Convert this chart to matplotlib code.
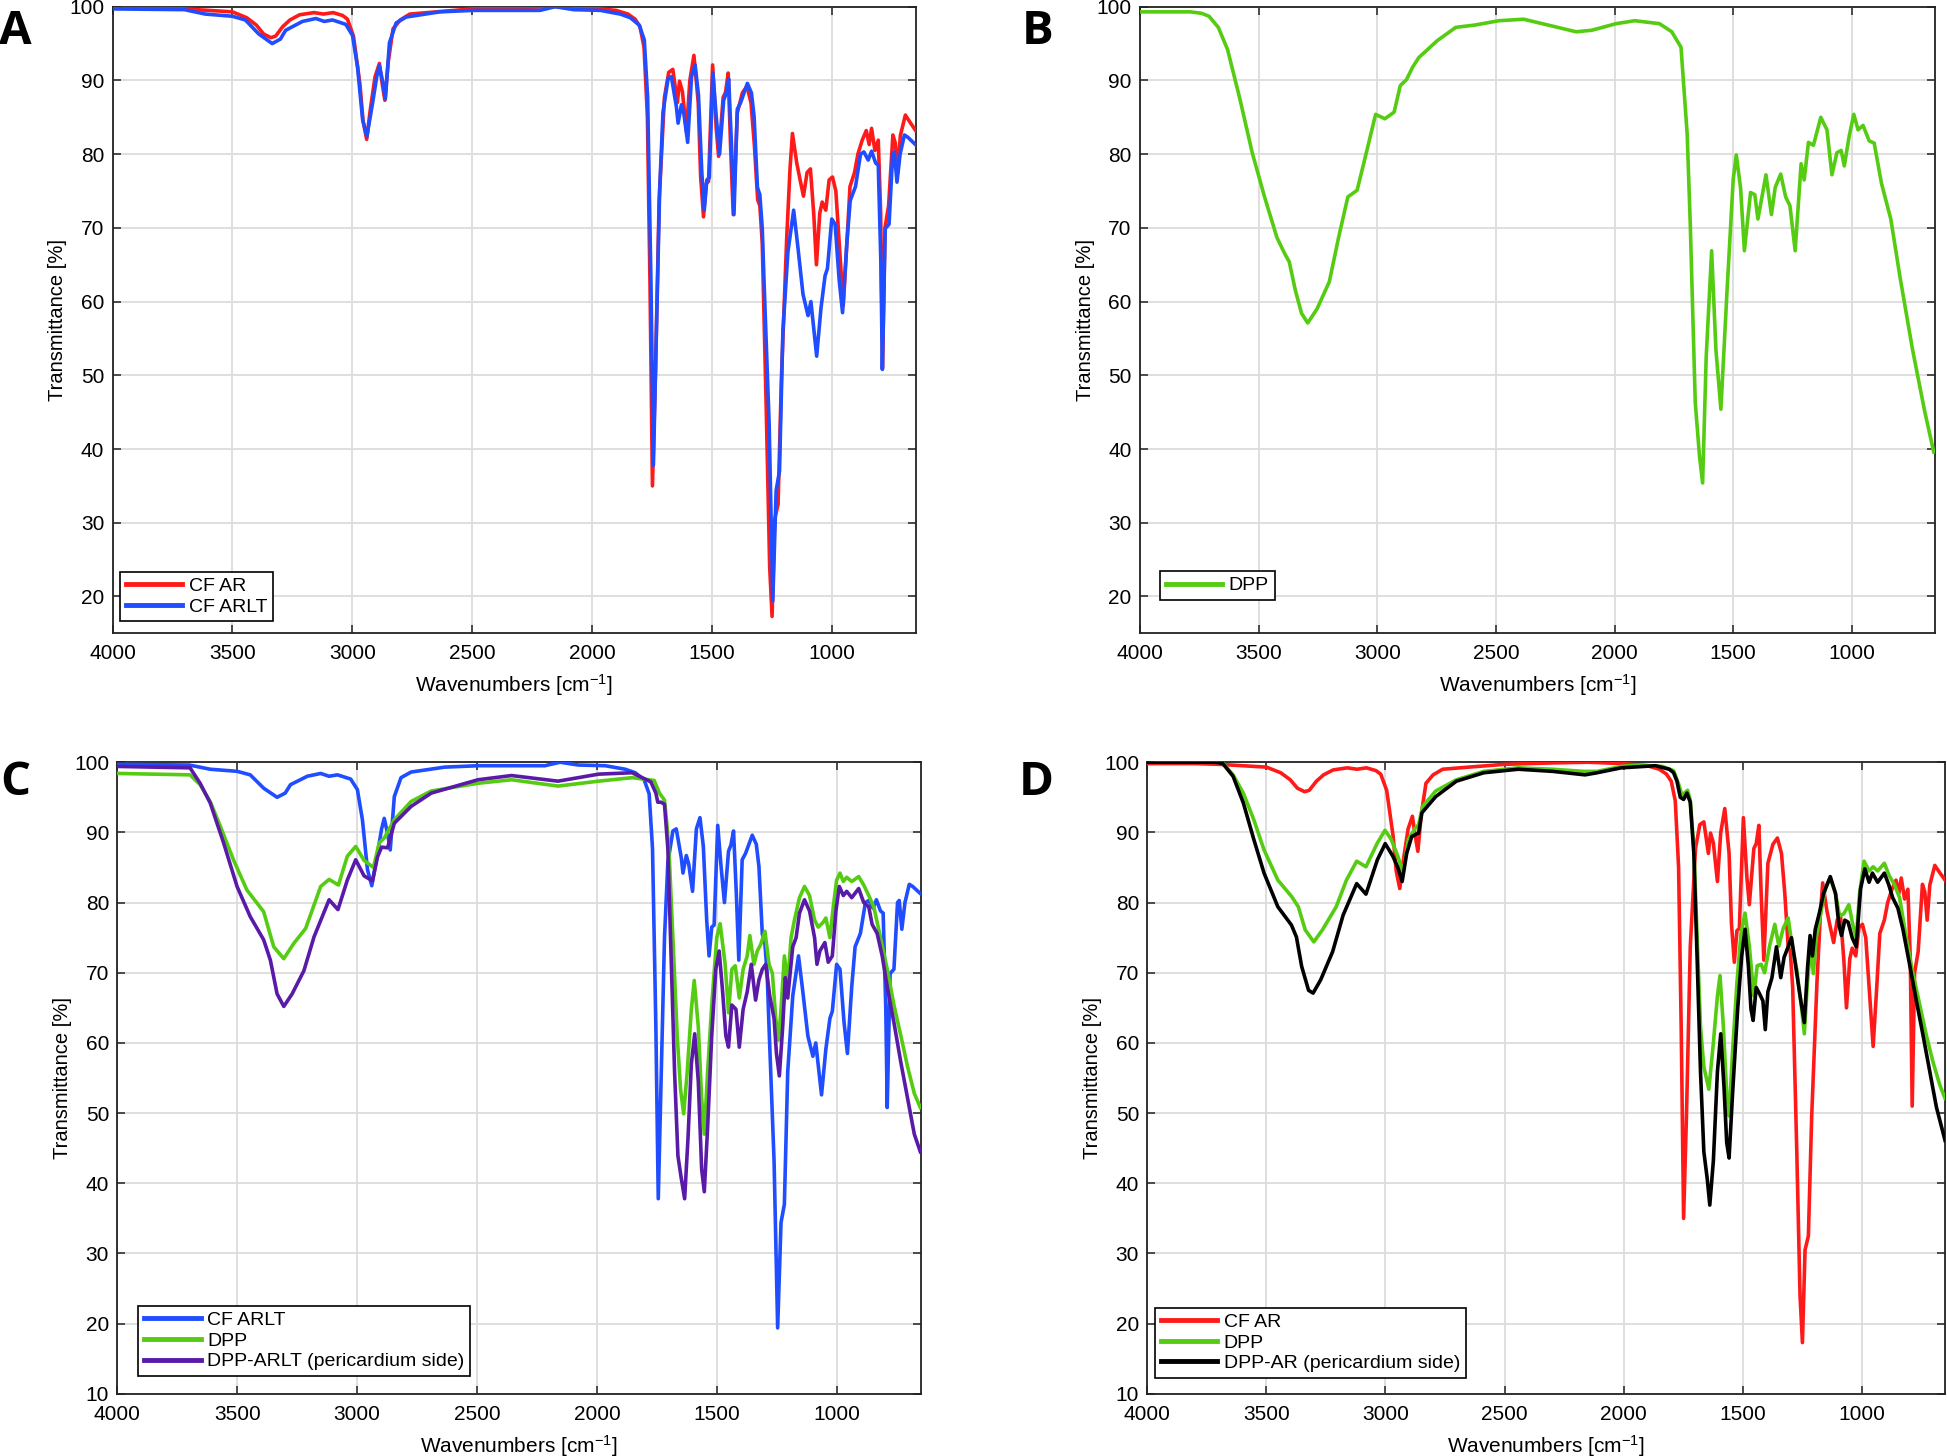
import matplotlib
matplotlib.use('Agg')
import matplotlib.pyplot as plt

plt.rcParams['font.family'] = ['Liberation Sans Narrow', 'Liberation Sans', 'DejaVu Sans']
plt.rcParams['mathtext.default'] = 'regular'

# CF AR (red) - panels A and D
wn_cf_ar = [4000, 3800, 3700, 3600, 3500, 3440, 3400, 3370, 3340, 3320, 3290, 3260, 3220, 3160, 3120,
            3080, 3040, 3020, 2995, 2968, 2955, 2940, 2925, 2905, 2887, 2875, 2864, 2850, 2830, 2800,
            2760, 2650, 2500, 2300, 2150, 2000, 1900, 1850, 1820, 1800, 1783, 1769, 1758, 1748, 1736,
            1720, 1698, 1680, 1663, 1644, 1635, 1623, 1606, 1592, 1575, 1557, 1547, 1535, 1524, 1514,
            1497, 1482, 1472, 1453, 1443, 1432, 1422, 1411, 1394, 1373, 1354, 1337, 1323, 1309, 1300,
            1290, 1273, 1259, 1249, 1238, 1224, 1210, 1188, 1174, 1164, 1146, 1132, 1118, 1103, 1089,
            1075, 1064, 1050, 1040, 1025, 1011, 997, 983, 969, 952, 938, 924, 905, 891, 873,
            856, 844, 834, 820, 806, 796, 788, 778, 763, 745, 735, 725, 714, 693, 671, 650]
t_cf_ar = [99.8, 99.8, 99.7, 99.5, 99.3, 98.5, 97.5, 96.3, 95.8, 96.0, 97.3, 98.2, 98.9, 99.2, 99.0,
           99.2, 98.8, 98.3, 96.0, 89.5, 84.5, 82.0, 86.0, 90.5, 92.3, 89.5, 87.3, 92.5, 97.0, 98.2,
           99.0, 99.3, 99.7, 99.9, 100.0, 99.8, 99.5, 99.0, 98.3, 97.3, 94.5, 85.0, 62.0, 35.0, 49.6,
           73.7, 87.7, 91.1, 91.5, 87.0, 89.9, 88.5, 83.0, 90.0, 93.4, 87.0, 77.0, 71.5, 76.0, 76.3,
           92.1, 83.5, 79.7, 87.7, 88.4, 91.0, 81.0, 71.8, 85.6, 88.3, 89.2, 87.0, 81.3, 73.8, 73.0,
           68.0, 45.0, 24.0, 17.3, 30.5, 32.5, 49.6, 68.6, 78.1, 82.8, 78.8, 76.5, 74.3, 77.5, 78.0,
           71.8, 65.0, 72.0, 73.5, 72.4, 76.5, 76.9, 75.0, 68.0, 59.5, 67.3, 75.6, 77.5, 80.0, 81.9,
           83.2, 81.3, 83.5, 80.5, 81.9, 72.0, 51.0, 70.0, 73.0, 82.6, 81.5, 77.5, 82.5, 85.3, 84.2, 83.2]

# CF ARLT (blue) - panels A and C
wn_cf_arlt = [4000, 3700, 3613, 3500, 3446, 3390, 3334, 3300, 3278, 3208, 3152, 3117, 3082, 3027, 2999,
              2978, 2957, 2939, 2915, 2898, 2887, 2873, 2862, 2845, 2817, 2775, 2635, 2496, 2217, 2154,
              2077, 1965, 1882, 1840, 1803, 1782, 1768, 1754, 1744, 1732, 1718, 1704, 1683, 1669, 1648,
              1641, 1627, 1617, 1601, 1585, 1570, 1556, 1542, 1532, 1521, 1511, 1496, 1482, 1468, 1451,
              1441, 1430, 1418, 1408, 1394, 1380, 1366, 1352, 1335, 1324, 1310, 1300, 1290, 1282, 1261,
              1246, 1232, 1218, 1204, 1183, 1159, 1141, 1120, 1099, 1087, 1063, 1045, 1028, 1018, 1000,
              986, 969, 955, 937, 923, 901, 880, 866, 848, 834, 817, 806, 795, 789, 777,
              761, 746, 739, 728, 715, 697, 683, 651]
t_cf_arlt = [99.7, 99.6, 99.0, 98.7, 98.2, 96.3, 95.0, 95.6, 96.8, 98.0, 98.4, 98.0, 98.2, 97.6, 96.1,
             91.8, 84.7, 82.4, 87.0, 90.5, 92.0, 89.8, 87.5, 95.1, 97.8, 98.6, 99.3, 99.5, 99.5, 100.0,
             99.6, 99.5, 99.0, 98.5, 97.5, 95.5, 87.7, 62.3, 37.8, 55.0, 75.0, 85.7, 90.2, 90.5, 86.4,
             84.2, 86.7, 85.5, 81.6, 90.5, 92.1, 88.0, 77.5, 72.4, 76.5, 76.8, 91.0, 85.1, 80.0, 87.3,
             88.2, 90.2, 81.0, 71.8, 86.1, 87.0, 88.3, 89.6, 88.3, 85.1, 75.5, 74.5, 70.0, 62.3, 43.2,
             19.4, 34.4, 37.0, 55.9, 66.7, 72.4, 67.3, 61.0, 58.1, 60.0, 52.6, 59.1, 63.5, 64.5, 71.2,
             70.5, 62.9, 58.5, 68.0, 73.7, 75.6, 80.0, 80.3, 79.2, 80.4, 78.8, 78.5, 65.0, 50.8, 69.9,
             70.5, 80.0, 80.3, 76.2, 80.0, 82.6, 82.3, 81.3]

# DPP (green) - panel B
wn_dpp_b = [4000, 3787, 3740, 3709, 3670, 3631, 3579, 3527, 3475, 3423, 3390, 3371, 3345, 3319, 3293,
            3254, 3202, 3163, 3124, 3085, 3046, 3007, 2968, 2929, 2903, 2877, 2851, 2825, 2747, 2669,
            2591, 2487, 2383, 2279, 2162, 2097, 1993, 1915, 1811, 1759, 1720, 1694, 1681, 1660, 1642,
            1629, 1614, 1591, 1573, 1552, 1526, 1500, 1487, 1469, 1453, 1427, 1409, 1396, 1362, 1339,
            1323, 1300, 1279, 1261, 1239, 1214, 1201, 1183, 1162, 1131, 1105, 1084, 1063, 1045, 1032,
            1011, 992, 974, 953, 927, 906, 875, 836, 797, 745, 693, 655]
t_dpp_b = [99.3, 99.3, 99.1, 98.7, 97.2, 94.2, 87.5, 80.2, 74.2, 68.7, 66.5, 65.4, 61.5, 58.4, 57.1,
           59.0, 62.7, 68.7, 74.2, 75.1, 80.2, 85.4, 84.8, 85.7, 89.3, 90.1, 91.8, 93.1, 95.4, 97.2,
           97.5, 98.1, 98.3, 97.5, 96.6, 96.8, 97.7, 98.1, 97.7, 96.6, 94.5, 82.7, 70.5, 46.3, 39.0,
           35.4, 52.4, 66.9, 53.5, 45.4, 61.5, 76.6, 79.9, 75.4, 66.9, 74.8, 74.5, 71.2, 77.2, 71.8,
           75.5, 77.3, 74.2, 73.0, 66.9, 78.7, 76.5, 81.6, 81.2, 85.0, 83.3, 77.2, 80.2, 80.5, 78.4,
           82.5, 85.4, 83.3, 83.9, 81.8, 81.5, 76.0, 71.2, 63.3, 53.6, 45.1, 39.6]

# DPP (green) - panel C
wn_dpp_c = [4000, 3697, 3655, 3613, 3571, 3516, 3460, 3390, 3348, 3306, 3264, 3215, 3152, 3117, 3078,
            3041, 3006, 2971, 2932, 2908, 2887, 2845, 2775, 2691, 2496, 2356, 2162, 1993, 1853, 1761,
            1739, 1718, 1707, 1697, 1683, 1665, 1651, 1638, 1623, 1606, 1594, 1577, 1563, 1552, 1538,
            1521, 1500, 1486, 1465, 1451, 1437, 1423, 1406, 1390, 1373, 1362, 1345, 1331, 1317, 1299,
            1282, 1268, 1254, 1242, 1232, 1218, 1204, 1190, 1176, 1155, 1134, 1113, 1092, 1077, 1056,
            1045, 1028, 1014, 1000, 986, 972, 958, 937, 908, 887, 866, 845, 817, 789, 761,
            732, 704, 676, 651]
t_dpp_c = [98.4, 98.2, 96.8, 94.4, 90.9, 86.1, 81.8, 78.7, 73.7, 72.0, 74.2, 76.3, 82.3, 83.3, 82.5,
           86.6, 88.0, 86.0, 85.0, 88.5, 89.2, 91.8, 94.4, 95.9, 97.0, 97.5, 96.6, 97.3, 97.8, 97.4,
           95.6, 94.6, 90.8, 85.7, 75.0, 61.0, 53.4, 49.9, 56.0, 64.8, 68.9, 62.3, 52.1, 47.0, 56.0,
           65.4, 75.0, 77.0, 71.2, 64.3, 70.5, 71.0, 66.4, 70.5, 72.4, 75.3, 71.2, 73.1, 74.0, 75.9,
           71.2, 69.9, 63.5, 60.4, 64.8, 72.4, 68.6, 75.0, 77.5, 80.7, 82.3, 81.0, 77.5, 76.5, 77.2,
           77.8, 75.0, 79.4, 83.2, 84.2, 83.0, 83.6, 83.0, 83.7, 82.5, 81.0, 79.4, 75.0, 70.5, 65.4,
           61.0, 56.6, 52.8, 50.8]

# DPP-ARLT pericardium side (purple) - panel C
wn_dpp_arlt = [4000, 3697, 3655, 3613, 3557, 3501, 3446, 3390, 3362, 3334, 3306, 3271, 3222, 3180, 3117,
               3080, 3041, 3006, 2971, 2936, 2915, 2898, 2873, 2845, 2775, 2691, 2496, 2356, 2162, 1993,
               1853, 1775, 1754, 1746, 1732, 1718, 1704, 1690, 1676, 1662, 1648, 1634, 1620, 1606, 1592,
               1577, 1563, 1552, 1538, 1521, 1504, 1490, 1476, 1462, 1451, 1437, 1420, 1406, 1390, 1373,
               1356, 1338, 1324, 1310, 1296, 1279, 1261, 1251, 1239, 1225, 1214, 1204, 1194, 1183, 1169,
               1155, 1134, 1113, 1092, 1082, 1070, 1049, 1035, 1018, 1003, 989, 972, 958, 937, 908,
               887, 866, 852, 831, 810, 789, 761, 732, 704, 676, 651]
t_dpp_arlt = [99.4, 99.2, 97.0, 94.2, 88.5, 82.3, 78.0, 74.7, 71.8, 67.0, 65.2, 67.0, 70.3, 75.1, 80.4,
              79.0, 83.2, 86.1, 83.8, 83.1, 86.5, 87.9, 87.8, 91.3, 93.7, 95.6, 97.5, 98.1, 97.3, 98.3,
              98.5, 97.2, 95.6, 94.3, 94.3, 94.0, 87.7, 71.8, 55.9, 43.9, 40.7, 37.8, 46.4, 57.0, 61.3,
              54.5, 42.0, 38.8, 48.0, 61.0, 70.5, 73.1, 67.5, 61.0, 59.4, 65.4, 64.8, 59.4, 64.8, 67.3,
              71.2, 66.1, 69.0, 70.5, 71.2, 66.7, 63.5, 58.5, 55.3, 62.3, 69.3, 66.4, 69.9, 73.7, 75.0,
              78.5, 80.4, 78.8, 75.0, 71.2, 73.1, 74.3, 71.5, 72.4, 78.8, 82.3, 81.0, 81.6, 80.7, 82.0,
              80.0, 79.4, 76.9, 75.6, 72.4, 68.0, 62.9, 57.2, 52.1, 47.0, 44.5]

# DPP (green) - panel D
wn_dpp_d = [4000, 3712, 3683, 3640, 3597, 3553, 3510, 3452, 3395, 3366, 3337, 3301, 3265, 3207, 3164,
            3121, 3082, 3034, 3002, 2976, 2948, 2926, 2904, 2875, 2861, 2844, 2789, 2702, 2587, 2443,
            2299, 2169, 2111, 2010, 1938, 1837, 1790, 1769, 1755, 1745, 1731, 1720, 1705, 1691, 1677,
            1663, 1642, 1623, 1606, 1595, 1581, 1567, 1557, 1542, 1524, 1507, 1490, 1472, 1453, 1439,
            1422, 1408, 1387, 1365, 1348, 1330, 1309, 1292, 1273, 1252, 1241, 1228, 1214, 1203, 1191,
            1174, 1153, 1132, 1110, 1093, 1075, 1054, 1037, 1023, 1009, 990, 969, 952, 933, 905,
            884, 863, 841, 813, 785, 756, 728, 700, 672, 650]
t_dpp_d = [100.0, 100.0, 99.9, 98.2, 95.6, 91.8, 87.5, 83.2, 80.9, 79.4, 76.1, 74.4, 76.1, 79.4, 83.2,
           85.9, 85.1, 88.5, 90.3, 89.0, 86.6, 84.2, 89.0, 90.6, 91.1, 93.7, 95.9, 97.5, 98.7, 99.2,
           99.0, 98.7, 98.7, 99.4, 99.6, 99.4, 98.8, 96.9, 95.3, 95.6, 96.0, 94.6, 87.7, 75.0, 62.3,
           56.6, 53.4, 60.0, 66.7, 69.6, 62.3, 52.8, 49.6, 59.0, 68.6, 75.6, 78.5, 73.8, 66.7, 71.0,
           71.2, 70.0, 73.8, 76.9, 73.8, 76.3, 77.8, 73.8, 70.5, 64.8, 61.3, 68.6, 73.7, 69.9, 75.0,
           78.1, 82.0, 83.5, 81.3, 78.1, 78.4, 79.7, 76.8, 75.0, 81.3, 85.9, 84.5, 85.1, 84.5, 85.6,
           83.8, 82.6, 80.7, 75.0, 69.9, 65.4, 61.0, 57.2, 54.0, 52.1]

# DPP-AR pericardium side (black) - panel D
wn_dpp_ar = [4000, 3712, 3683, 3640, 3597, 3553, 3510, 3452, 3395, 3374, 3352, 3323, 3304, 3272, 3222,
             3178, 3121, 3082, 3034, 3001, 2969, 2948, 2930, 2911, 2890, 2861, 2847, 2789, 2702, 2587,
             2443, 2299, 2162, 2111, 2010, 1866, 1808, 1790, 1776, 1762, 1748, 1734, 1720, 1705, 1691,
             1677, 1663, 1649, 1638, 1623, 1606, 1592, 1578, 1567, 1557, 1542, 1521, 1504, 1490, 1476,
             1465, 1456, 1443, 1429, 1415, 1405, 1394, 1377, 1358, 1340, 1326, 1309, 1295, 1281, 1259,
             1241, 1228, 1217, 1207, 1195, 1178, 1160, 1132, 1110, 1096, 1085, 1071, 1057, 1040, 1023,
             1005, 987, 969, 955, 933, 905, 887, 870, 848, 827, 799, 771, 742, 714, 686, 650]
t_dpp_ar = [100.0, 100.0, 99.8, 98.0, 94.2, 89.0, 84.2, 79.4, 76.8, 75.1, 70.9, 67.5, 67.1, 69.0, 73.0,
            78.2, 82.7, 81.2, 86.1, 88.4, 86.6, 85.0, 83.0, 87.0, 89.4, 89.9, 92.8, 95.1, 97.3, 98.5,
            99.0, 98.7, 98.2, 98.5, 99.2, 99.5, 99.0, 98.5, 97.3, 95.0, 94.7, 95.6, 94.3, 87.0, 71.8,
            55.9, 44.5, 40.7, 36.9, 43.2, 55.9, 61.3, 53.5, 45.8, 43.6, 53.0, 64.8, 72.4, 76.2, 71.0,
            64.8, 63.2, 67.9, 67.0, 66.0, 61.9, 67.3, 69.3, 73.7, 69.3, 72.2, 73.7, 75.0, 71.8, 66.7,
            62.9, 70.5, 75.3, 72.4, 76.2, 78.5, 81.3, 83.7, 81.3, 76.9, 75.3, 77.5, 77.2, 75.0, 73.7,
            81.9, 84.8, 82.9, 84.2, 82.9, 84.2, 82.6, 80.7, 79.2, 76.2, 71.2, 66.1, 61.0, 55.9, 50.8, 46.1]

red = '#ff1a1a'
blue = '#1f4dff'
green = '#55cc11'
purple = '#5a1aa8'
black = '#000000'

fig = plt.figure(figsize=(19.47, 14.56), dpi=100)

panels = [
    ('A', [0.0578, 0.5650, 0.4125, 0.4304], (15, 100), [20, 30, 40, 50, 60, 70, 80, 90, 100],
     [(wn_cf_ar, t_cf_ar, red, 'CF AR'), (wn_cf_arlt, t_cf_arlt, blue, 'CF ARLT')],
     (0.0092, 0.019), (0.0077, 0.9787)),
    ('B', [0.5855, 0.5650, 0.4083, 0.4304], (15, 100), [20, 30, 40, 50, 60, 70, 80, 90, 100],
     [(wn_dpp_b, t_dpp_b, green, 'DPP')],
     (0.025, 0.053), (0.533, 0.9787)),
    ('C', [0.0603, 0.0427, 0.4125, 0.4338], (10, 100), [10, 20, 30, 40, 50, 60, 70, 80, 90, 100],
     [(wn_cf_arlt, t_cf_arlt, blue, 'CF ARLT'), (wn_dpp_c, t_dpp_c, green, 'DPP'),
      (wn_dpp_arlt, t_dpp_arlt, purple, 'DPP-ARLT (pericardium side)')],
     (0.026, 0.028), (0.0077, 0.4629)),
    ('D', [0.5893, 0.0427, 0.4097, 0.4338], (10, 100), [10, 20, 30, 40, 50, 60, 70, 80, 90, 100],
     [(wn_cf_ar, t_cf_ar, red, 'CF AR'), (wn_dpp_d, t_dpp_d, green, 'DPP'),
      (wn_dpp_ar, t_dpp_ar, black, 'DPP-AR (pericardium side)')],
     (0.0093, 0.025), (0.532, 0.4629)),
]

for letter, rect, ylim, yticks, curves, leg_pos, letter_pos in panels:
    ax = fig.add_axes(rect)
    for wn, t, c, lab in curves:
        ax.plot(wn, t, color=c, lw=2.6, label=lab, zorder=3)
    ax.set_xlim(4000, 650)
    ax.set_ylim(*ylim)
    ax.set_xticks([4000, 3500, 3000, 2500, 2000, 1500, 1000])
    ax.set_yticks(yticks)
    ax.grid(True, color='#dcdcdc', lw=1.3, zorder=0)
    ax.set_axisbelow(True)
    ax.tick_params(direction='in', length=6, width=1.1, top=True, right=True,
                   labelsize=15, color='#222222')
    ax.tick_params(axis='y', pad=6)
    ax.tick_params(axis='x', pad=8)
    for s in ax.spines.values():
        s.set_linewidth(1.3)
        s.set_color('#222222')
    ax.set_ylabel('Transmittance [%]', fontsize=14.5, family=['Liberation Sans', 'DejaVu Sans'])
    ax.yaxis.set_label_coords(-0.057, 0.5)
    ax.set_xlabel('Wavenumbers [cm$^{-1}$]', fontsize=15)
    ax.xaxis.set_label_coords(0.5, -0.062)
    leg = ax.legend(loc='lower left', bbox_to_anchor=leg_pos, fontsize=14, frameon=True,
                    fancybox=False, edgecolor='black', framealpha=1, handlelength=2.9,
                    handletextpad=0.35, borderpad=0.3, labelspacing=0.15, borderaxespad=0)
    leg.get_frame().set_linewidth(1.2)
    for h in leg.get_lines():
        h.set_linewidth(3.5)
    fig.text(letter_pos[0], letter_pos[1], letter, fontsize=34, fontweight='bold',
             family=['Open Sans', 'DejaVu Sans'], ha='center', va='center')

fig.savefig('out.png', dpi=100)
